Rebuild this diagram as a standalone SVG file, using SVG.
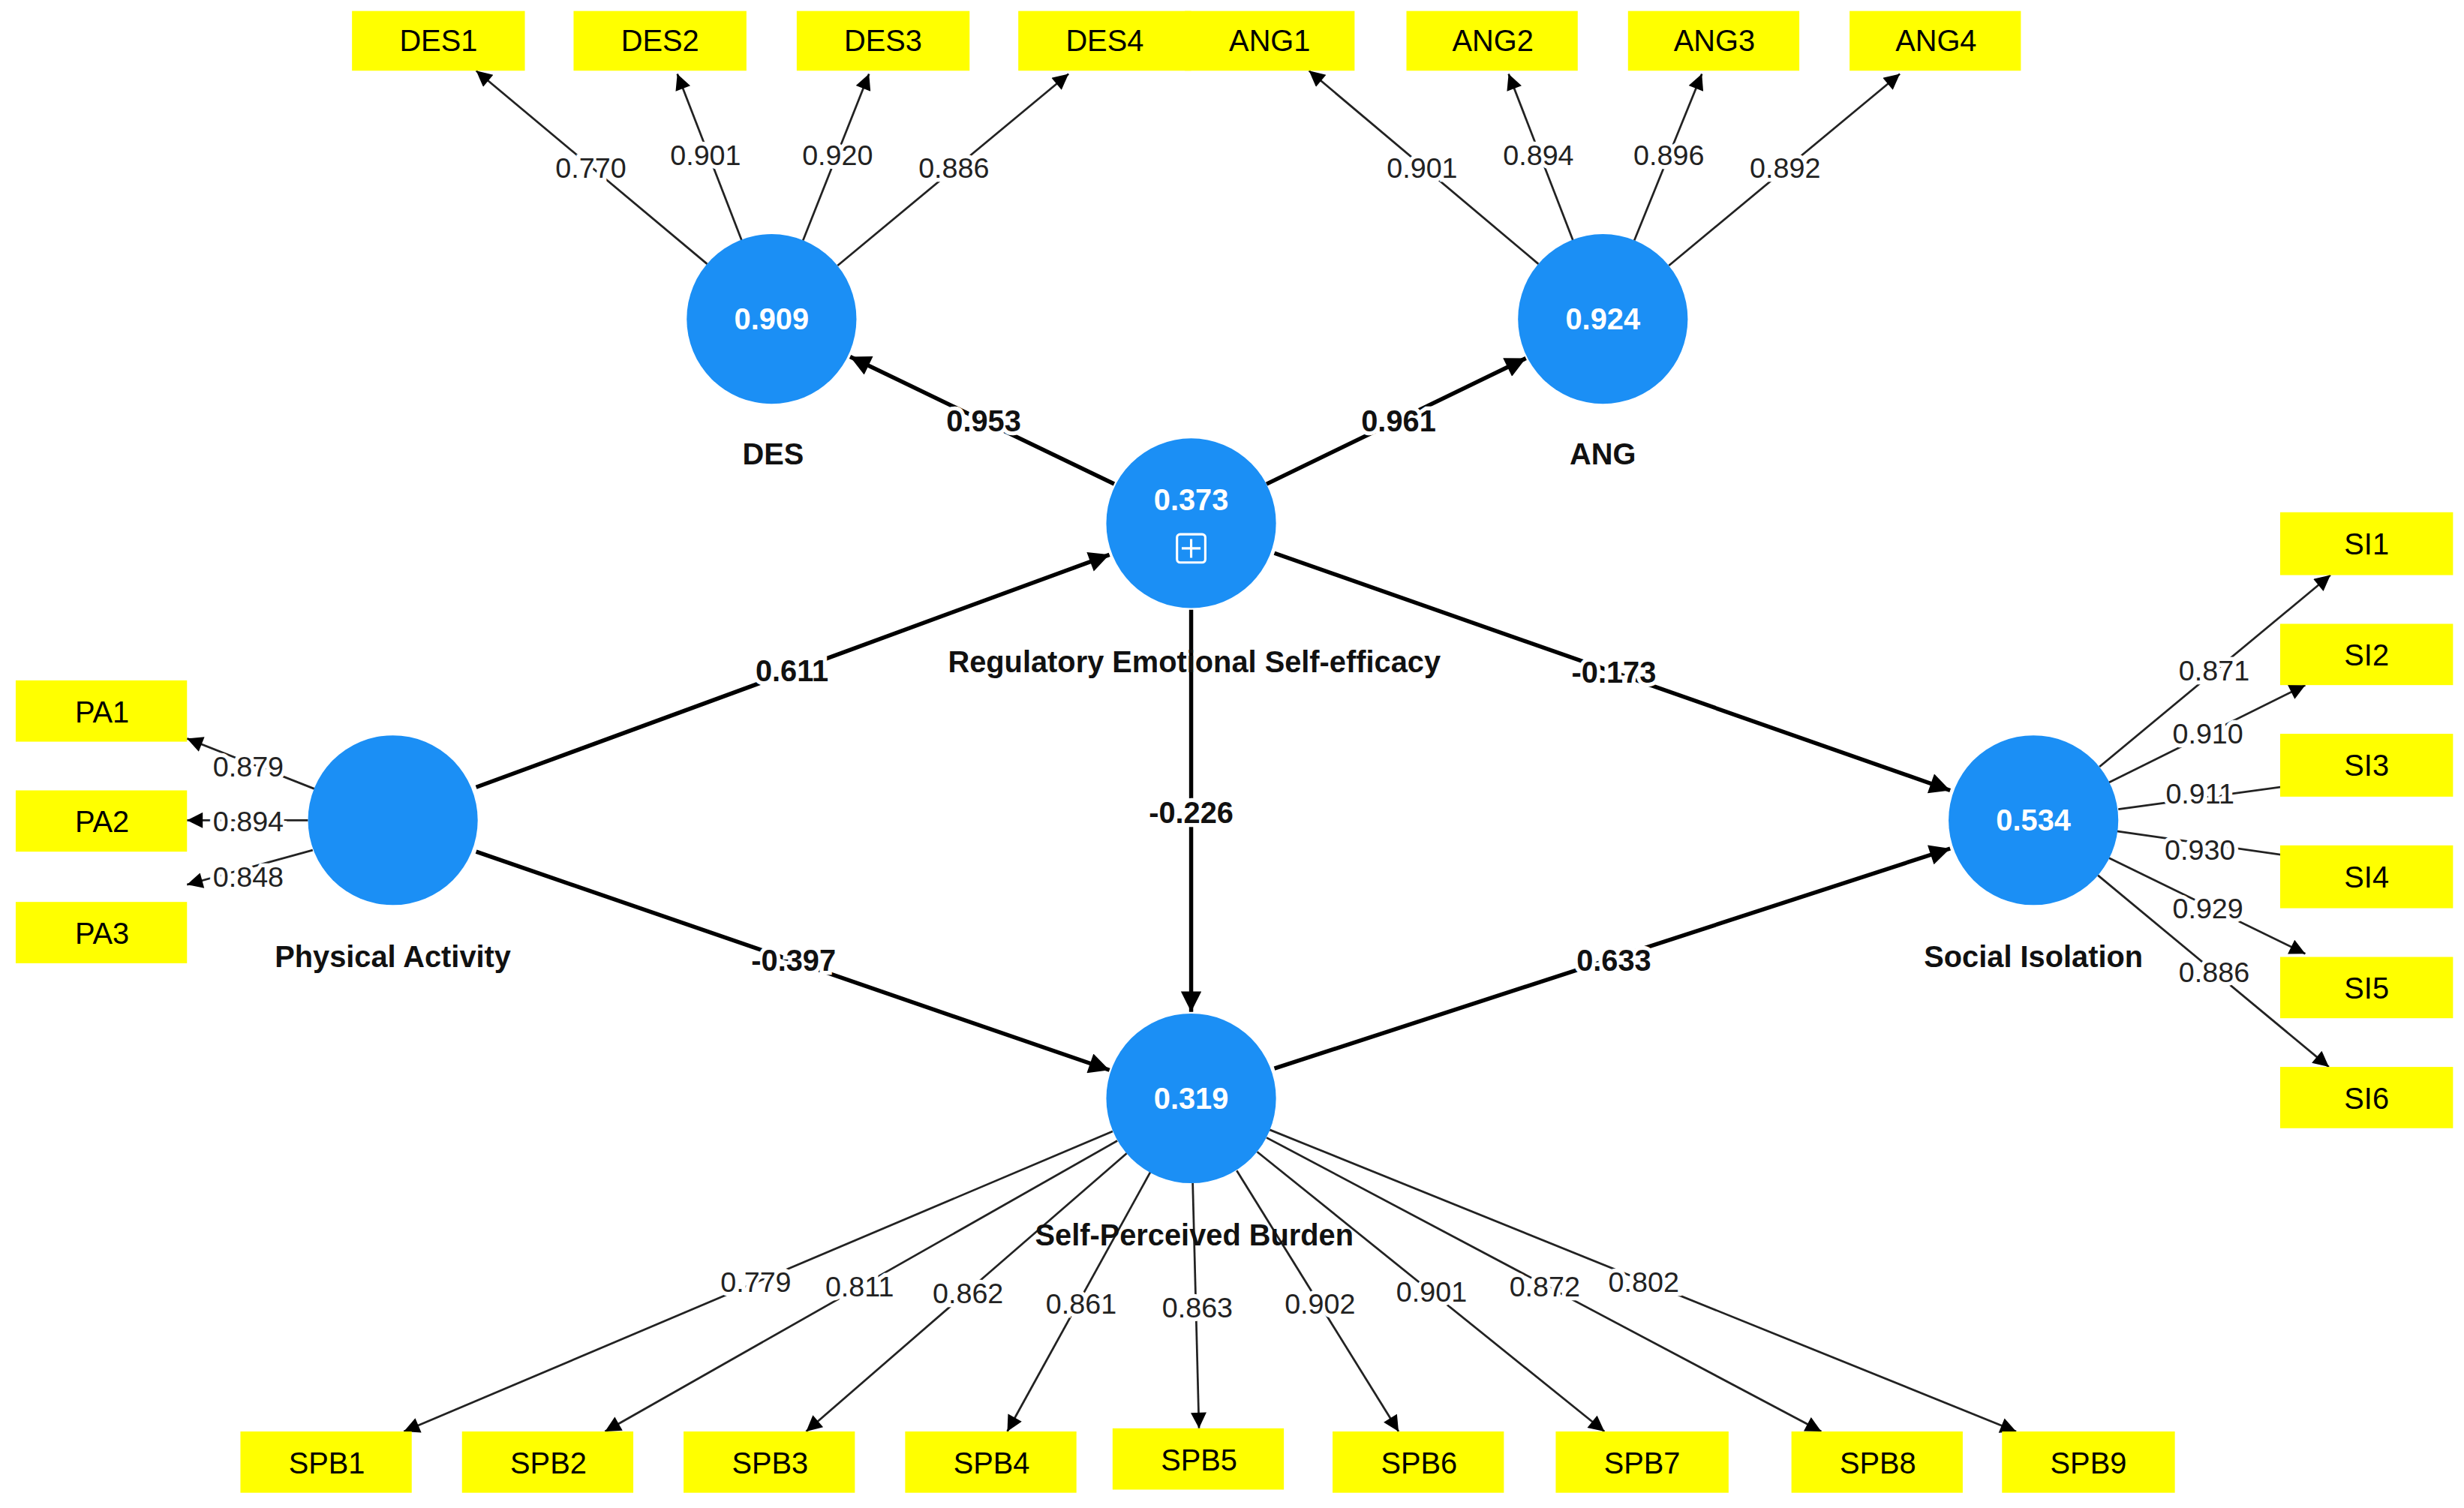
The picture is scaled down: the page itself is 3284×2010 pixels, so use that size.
<svg xmlns="http://www.w3.org/2000/svg" width="3284" height="2010" viewBox="0 0 3284 2010">
<style>
.bx{fill:#ffff00}
.bt{font-family:"Liberation Sans",Arial,sans-serif;font-size:19px;fill:#000;text-anchor:middle;dominant-baseline:central}
.c{fill:#1b8ff5}
.ct{font-family:"Liberation Sans",Arial,sans-serif;font-size:19px;font-weight:bold;fill:#fff;text-anchor:middle;dominant-baseline:central}
.nl{font-family:"Liberation Sans",Arial,sans-serif;font-size:19px;font-weight:bold;fill:#111;text-anchor:middle;dominant-baseline:central}
.ld{stroke:#222;stroke-width:1.3;fill:none}
.st{stroke:#000;stroke-width:2.6;fill:none}
.ll{font-family:"Liberation Sans",Arial,sans-serif;font-size:18px;fill:#222;text-anchor:middle;dominant-baseline:central;stroke:#fff;stroke-width:5;paint-order:stroke}
.pl{font-family:"Liberation Sans",Arial,sans-serif;font-size:19px;font-weight:bold;fill:#111;text-anchor:middle;dominant-baseline:central;stroke:#fff;stroke-width:5;paint-order:stroke}
</style>
<defs>
<marker id="a" viewBox="0 0 10 10" refX="10" refY="5" markerWidth="12" markerHeight="10" markerUnits="userSpaceOnUse" orient="auto"><path d="M0,0L10,5L0,10z" fill="#000"/></marker>
<marker id="b" viewBox="0 0 10 10" refX="10" refY="5" markerWidth="16" markerHeight="13" markerUnits="userSpaceOnUse" orient="auto"><path d="M0,0L10,5L0,10z" fill="#000"/></marker>
</defs>
<rect width="3284" height="2010" fill="#fff"/>
<g transform="scale(2.0944)">
<g id="connectors">
<path class="ld" marker-end="url(#a)" d="M450,168L303,45"/><path class="ld" marker-end="url(#a)" d="M472,153L431,47"/><path class="ld" marker-end="url(#a)" d="M511,153L553,47"/><path class="ld" marker-end="url(#a)" d="M533,169L680,47"/>
<path class="ld" marker-end="url(#a)" d="M979,168L833,45"/><path class="ld" marker-end="url(#a)" d="M1001,153L960,47"/><path class="ld" marker-end="url(#a)" d="M1040,153L1083,47"/><path class="ld" marker-end="url(#a)" d="M1062,169L1209,47"/>
<path class="ld" marker-end="url(#a)" d="M200,502L119,470"/><path class="ld" marker-end="url(#a)" d="M196,522L119,522"/><path class="ld" marker-end="url(#a)" d="M199,541L119,563"/>
<path class="ld" marker-end="url(#a)" d="M1336,488L1483,366"/><path class="ld" marker-end="url(#a)" d="M1342,498L1467,436"/><path class="ld" marker-end="url(#a)" d="M1348,515L1480,497"/><path class="ld" marker-end="url(#a)" d="M1347,529L1480,548"/><path class="ld" marker-end="url(#a)" d="M1342,546L1467,607"/><path class="ld" marker-end="url(#a)" d="M1335,557L1482,679"/>
<path class="ld" marker-end="url(#a)" d="M708,720L257,911"/><path class="ld" marker-end="url(#a)" d="M711,726L385,911"/><path class="ld" marker-end="url(#a)" d="M717,734L513,911"/><path class="ld" marker-end="url(#a)" d="M732,746L641,911"/><path class="ld" marker-end="url(#a)" d="M759,753L763,909"/><path class="ld" marker-end="url(#a)" d="M787,745L890,911"/><path class="ld" marker-end="url(#a)" d="M800,733L1021,911"/><path class="ld" marker-end="url(#a)" d="M806,724L1159,911"/><path class="ld" marker-end="url(#a)" d="M808,719L1283,911"/>
<path class="st" marker-end="url(#b)" d="M709,308L541,227"/><path class="st" marker-end="url(#b)" d="M806,308L971,228"/><path class="st" marker-end="url(#b)" d="M303,501L706,353"/><path class="st" marker-end="url(#b)" d="M303,542L706,681"/><path class="st" marker-end="url(#b)" d="M811,352L1241,503"/><path class="st" marker-end="url(#b)" d="M758,388L758,644"/><path class="st" marker-end="url(#b)" d="M811,680L1241,540"/>
<text class="ll" x="376" y="107">0.770</text><text class="ll" x="449" y="99">0.901</text><text class="ll" x="533" y="99">0.920</text><text class="ll" x="607" y="107">0.886</text>
<text class="ll" x="905" y="107">0.901</text><text class="ll" x="979" y="99">0.894</text><text class="ll" x="1062" y="99">0.896</text><text class="ll" x="1136" y="107">0.892</text>
<text class="ll" x="158" y="488">0.879</text><text class="ll" x="158" y="523">0.894</text><text class="ll" x="158" y="558">0.848</text>
<text class="ll" x="1409" y="427">0.871</text><text class="ll" x="1405" y="467">0.910</text><text class="ll" x="1400" y="505">0.911</text><text class="ll" x="1400" y="541">0.930</text><text class="ll" x="1405" y="578">0.929</text><text class="ll" x="1409" y="619">0.886</text>
<text class="ll" x="481" y="816">0.779</text><text class="ll" x="547" y="819">0.811</text><text class="ll" x="616" y="823">0.862</text><text class="ll" x="688" y="830">0.861</text><text class="ll" x="762" y="832">0.863</text><text class="ll" x="840" y="830">0.902</text><text class="ll" x="911" y="822">0.901</text><text class="ll" x="983" y="819">0.872</text><text class="ll" x="1046" y="816">0.802</text>
<text class="pl" x="626" y="268">0.953</text><text class="pl" x="890" y="268">0.961</text><text class="pl" x="504" y="427">0.611</text><text class="pl" x="505" y="611">-0.397</text><text class="pl" x="1027" y="428">-0.173</text><text class="pl" x="758" y="517">-0.226</text><text class="pl" x="1027" y="611">0.633</text>
</g>
<g id="DES"><circle class="c" cx="491" cy="203" r="54"/><text class="ct" x="491" y="203">0.909</text><text class="nl" x="492" y="289">DES</text></g>
<g id="ANG"><circle class="c" cx="1020" cy="203" r="54"/><text class="ct" x="1020" y="203">0.924</text><text class="nl" x="1020" y="289">ANG</text></g>
<g id="REG"><circle class="c" cx="758" cy="333" r="54"/><text class="ct" x="758" y="318">0.373</text><rect x="749" y="340" width="18" height="18" rx="2" fill="none" stroke="#fff" stroke-width="1.5"/><path d="M758,343V355M752,349H764" stroke="#fff" stroke-width="1.5"/><text class="nl" x="760" y="421">Regulatory Emotional Self-efficacy</text></g>
<g id="PA"><circle class="c" cx="250" cy="522" r="54"/><text class="nl" x="250" y="609">Physical Activity</text></g>
<g id="SI"><circle class="c" cx="1294" cy="522" r="54"/><text class="ct" x="1294" y="522">0.534</text><text class="nl" x="1294" y="609">Social Isolation</text></g>
<g id="SPB"><circle class="c" cx="758" cy="699" r="54"/><text class="ct" x="758" y="699">0.319</text><text class="nl" x="760" y="786">Self-Perceived Burden</text></g>
<g id="DES1"><rect class="bx" x="224" y="7" width="110" height="38"/><text class="bt" x="279" y="26">DES1</text></g>
<g id="DES2"><rect class="bx" x="365" y="7" width="110" height="38"/><text class="bt" x="420" y="26">DES2</text></g>
<g id="DES3"><rect class="bx" x="507" y="7" width="110" height="38"/><text class="bt" x="562" y="26">DES3</text></g>
<g id="DES4"><rect class="bx" x="648" y="7" width="110" height="38"/><text class="bt" x="703" y="26">DES4</text></g>
<g id="ANG1"><rect class="bx" x="754" y="7" width="108" height="38"/><text class="bt" x="808" y="26">ANG1</text></g>
<g id="ANG2"><rect class="bx" x="895" y="7" width="109" height="38"/><text class="bt" x="950" y="26">ANG2</text></g>
<g id="ANG3"><rect class="bx" x="1036" y="7" width="109" height="38"/><text class="bt" x="1091" y="26">ANG3</text></g>
<g id="ANG4"><rect class="bx" x="1177" y="7" width="109" height="38"/><text class="bt" x="1232" y="26">ANG4</text></g>
<g id="PA1"><rect class="bx" x="10" y="433" width="109" height="39"/><text class="bt" x="65" y="453">PA1</text></g>
<g id="PA2"><rect class="bx" x="10" y="503" width="109" height="39"/><text class="bt" x="65" y="523">PA2</text></g>
<g id="PA3"><rect class="bx" x="10" y="574" width="109" height="39"/><text class="bt" x="65" y="594">PA3</text></g>
<g id="SI1"><rect class="bx" x="1451" y="326" width="110" height="40"/><text class="bt" x="1506" y="346">SI1</text></g>
<g id="SI2"><rect class="bx" x="1451" y="397" width="110" height="39"/><text class="bt" x="1506" y="417">SI2</text></g>
<g id="SI3"><rect class="bx" x="1451" y="467" width="110" height="40"/><text class="bt" x="1506" y="487">SI3</text></g>
<g id="SI4"><rect class="bx" x="1451" y="538" width="110" height="40"/><text class="bt" x="1506" y="558">SI4</text></g>
<g id="SI5"><rect class="bx" x="1451" y="609" width="110" height="39"/><text class="bt" x="1506" y="629">SI5</text></g>
<g id="SI6"><rect class="bx" x="1451" y="679" width="110" height="39"/><text class="bt" x="1506" y="699">SI6</text></g>
<g id="SPB1"><rect class="bx" x="153" y="911" width="109" height="39"/><text class="bt" x="208" y="931">SPB1</text></g>
<g id="SPB2"><rect class="bx" x="294" y="911" width="109" height="39"/><text class="bt" x="349" y="931">SPB2</text></g>
<g id="SPB3"><rect class="bx" x="435" y="911" width="109" height="39"/><text class="bt" x="490" y="931">SPB3</text></g>
<g id="SPB4"><rect class="bx" x="576" y="911" width="109" height="39"/><text class="bt" x="631" y="931">SPB4</text></g>
<g id="SPB5"><rect class="bx" x="708" y="909" width="109" height="39"/><text class="bt" x="763" y="929">SPB5</text></g>
<g id="SPB6"><rect class="bx" x="848" y="911" width="109" height="39"/><text class="bt" x="903" y="931">SPB6</text></g>
<g id="SPB7"><rect class="bx" x="990" y="911" width="110" height="39"/><text class="bt" x="1045" y="931">SPB7</text></g>
<g id="SPB8"><rect class="bx" x="1140" y="911" width="109" height="39"/><text class="bt" x="1195" y="931">SPB8</text></g>
<g id="SPB9"><rect class="bx" x="1274" y="911" width="110" height="39"/><text class="bt" x="1329" y="931">SPB9</text></g>
</g>
</svg>
